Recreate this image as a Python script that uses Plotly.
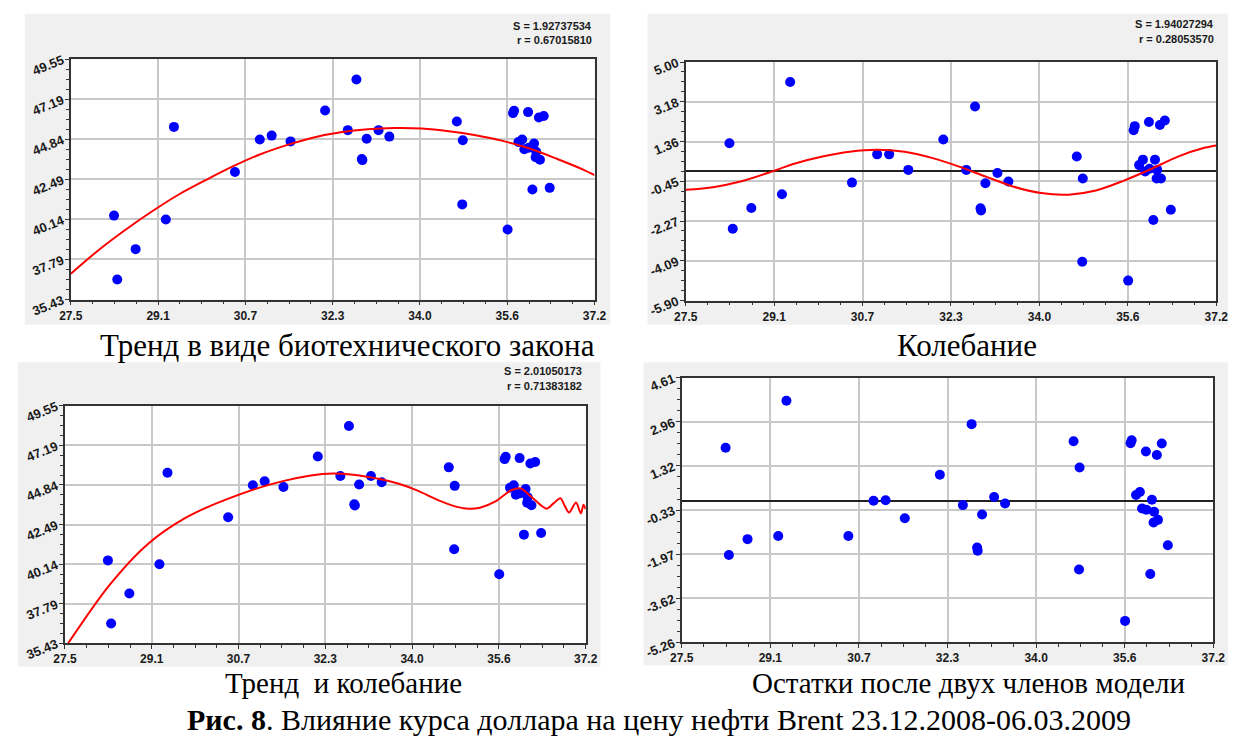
import numpy as np
import plotly.graph_objects as go

# ---------------- data ----------------
usd_rate = [28.30, 28.36, 28.70, 29.26, 29.41, 30.54, 31.00, 31.22, 31.57, 32.21,
            32.63, 32.79, 32.89, 32.90, 32.98, 33.20, 33.40, 34.65, 34.76, 34.75,
            35.59, 35.69, 35.71, 35.79, 35.86, 35.90, 35.97, 35.98, 36.05, 36.08,
            36.12, 36.11, 36.17, 36.19, 36.26, 36.37]
brent_price = [40.36, 36.61, 38.39, 40.13, 45.57, 42.92, 44.83, 45.06, 44.72, 46.53,
               45.38, 48.35, 43.69, 43.62, 44.87, 45.38, 45.00, 45.89, 44.79, 41.02,
               39.54, 46.38, 46.52, 44.68, 44.83, 44.26, 46.44, 44.35, 41.89, 44.60,
               44.11, 43.79, 46.12, 43.64, 46.21, 41.99]
resid_after_trend = [1.29, -2.62, -1.67, -1.04, 4.09, -0.51, 0.78, 0.78, 0.07, 1.46,
                     0.07, 2.97, -1.68, -1.78, -0.54, -0.07, -0.46, 0.68, -0.32, -4.13,
                     -4.99, 1.88, 2.07, 0.29, 0.54, 0.00, 2.26, 0.12, -2.22, 0.54,
                     0.07, -0.32, 2.12, -0.32, 2.33, -1.75]
resid_final = [2.00, -2.00, -1.41, -1.29, 3.75, -1.29, 0.02, 0.04, -0.63, 0.99,
               -0.14, 2.88, -1.72, -1.84, -0.49, 0.16, -0.08, 2.24, 1.26, -2.54,
               -4.46, 2.17, 2.28, 0.24, 0.35, -0.27, 1.86, -0.31, -2.71, 0.06,
               -0.39, -0.79, 1.73, -0.69, 2.16, -1.64]

trend_x = [27.5, 28.0, 28.5, 29.0, 29.5, 30.0, 30.5, 31.0, 31.5, 32.0, 32.5,
           33.0, 33.5, 34.0, 34.5, 35.0, 35.5, 36.0, 36.5, 37.0, 37.2]
trend_y = [36.95, 38.30, 39.50, 40.60, 41.60, 42.45, 43.25, 43.95, 44.50, 44.95, 45.25,
           45.43, 45.50, 45.47, 45.32, 45.08, 44.75, 44.30, 43.70, 43.05, 42.74]

osc_x = trend_x
osc_y = [-0.84, -0.72, -0.46, -0.07, 0.36, 0.68, 0.90, 0.99, 0.90, 0.62, 0.22,
         -0.25, -0.70, -0.99, -1.06, -0.87, -0.43, 0.10, 0.68, 1.09, 1.19]

combo_x = [27.56, 28.31, 29.03, 29.76, 30.52, 31.56, 32.49, 33.36, 33.72, 34.08,
           34.44, 34.80, 35.02, 35.23, 35.52, 35.81, 35.99, 36.17, 36.47, 36.60,
           36.73, 36.81, 36.89, 37.02, 37.11, 37.16, 37.20]
combo_y = [35.43, 38.81, 41.29, 42.91, 44.00, 45.07, 45.52, 45.20, 44.91, 44.49,
           43.96, 43.54, 43.43, 43.49, 43.86, 44.53, 44.63, 44.19, 43.43, 43.75,
           44.05, 43.60, 43.20, 43.80, 43.15, 43.67, 43.40]

x_ticklabels = ['27.5', '29.1', '30.7', '32.3', '34.0', '35.6', '37.2']
y1_ticklabels = ['35.43', '37.79', '40.14', '42.49', '44.84', '47.19', '49.55']
y2_ticklabels = ['-5.90', '-4.09', '-2.27', '-0.45', '1.36', '3.18', '5.00']
y4_ticklabels = ['-5.26', '-3.62', '-1.97', '-0.33', '1.32', '2.96', '4.61']

stats = [("S = 1.92737534", "r = 0.67015810"),
         ("S = 1.94027294", "r = 0.28053570"),
         ("S = 2.01050173", "r = 0.71383182")]
titles = ["Тренд в виде биотехнического закона", "Колебание",
          "Тренд  и колебание", "Остатки после двух членов модели"]
caption = "<b>Рис. 8</b>. Влияние курса доллара на цену нефти Brent 23.12.2008-06.03.2009"

# ---------------- layout geometry (pixels) ----------------
W, H = 1240, 755
def fx(p): return p / W
def fy(p): return 1 - p / H

plots = [  # x0, x1, y0(top), y1(bottom)
    (60, 594, 54, 303),
    (687, 1228, 57, 304),
    (54, 585, 413, 659),
    (683, 1225, 384, 658),
]
panels_bg = [
    (13, 610, 7, 329),
    (648, 1240, 7, 329),
    (6, 600, 368, 683),
    (644, 1240, 368, 682),
]

fig = go.Figure()

BLUE = '#0000ff'
RED = '#ff0000'

def axname(i, a):
    return a + ('' if i == 0 else str(i + 1))

series = [
    (brent_price, trend_x, trend_y),
    (resid_after_trend, osc_x, osc_y),
    (brent_price, combo_x, combo_y),
    (resid_final, None, None),
]
for i, (yv, cx, cy) in enumerate(series):
    xa = 'x' + ('' if i == 0 else str(i + 1))
    ya = 'y' + ('' if i == 0 else str(i + 1))
    fig.add_trace(go.Scatter(x=usd_rate, y=yv, mode='markers', xaxis=xa, yaxis=ya,
                             marker=dict(color=BLUE, size=10, line=dict(width=0)),
                             showlegend=False))
    if cx is not None:
        fig.add_trace(go.Scatter(x=cx, y=cy, mode='lines', xaxis=xa, yaxis=ya,
                                 line=dict(color=RED, width=2, shape='spline', smoothing=0.8),
                                 showlegend=False))

yranges = [(35.43, 49.55, y1_ticklabels), (-5.90, 5.00, y2_ticklabels),
           (35.43, 49.55, y1_ticklabels), (-5.26, 4.61, y4_ticklabels)]
xlo, xhi = 27.5, 37.2
xticks = np.linspace(xlo, xhi, 7)
xminor = np.linspace(xlo, xhi, 25)

xtickfont = dict(family='Liberation Sans, Arial', size=12, color='#1a1a1a')
ytickfont = dict(family='Liberation Sans, Arial', size=13, color='#1a1a1a')
layout = {}
for i, (x0, x1, yt, yb) in enumerate(plots):
    lo, hi, labs = yranges[i]
    yticks = np.linspace(lo, hi, 7)
    yminor = np.linspace(lo, hi, 25)
    common = dict(showline=True, linecolor='#333333', linewidth=1.5, mirror=True,
                  showgrid=True, gridcolor='#c8c8c8', gridwidth=2,
                  ticks='outside', ticklen=4, tickcolor='#333333', tickwidth=1,
                  fixedrange=True)
    layout[axname(i, 'xaxis')] = dict(
        common, domain=[fx(x0), fx(x1)], range=[xlo, xhi], anchor=axname(i, 'y'),
        tickmode='array', tickvals=list(xticks), tickfont=xtickfont,
        ticktext=['<b>%s</b>' % t for t in x_ticklabels], zeroline=False,
        minor=dict(tickmode='array', tickvals=list(xminor), ticks='outside',
                   ticklen=3, tickcolor='#333333', showgrid=False))
    layout[axname(i, 'yaxis')] = dict(
        common, domain=[fy(yb), fy(yt)], range=[lo, hi], anchor=axname(i, 'x'),
        tickmode='array', tickvals=list(yticks), tickfont=ytickfont,
        ticktext=['<b>%s</b>' % t for t in labs], tickangle=-22,
        zeroline=(i in (1, 3)), zerolinecolor='#222222', zerolinewidth=1.5,
        minor=dict(tickmode='array', tickvals=list(yminor), ticks='outside',
                   ticklen=3, tickcolor='#333333', showgrid=False))

shapes = []
for (x0, x1, y0, y1) in panels_bg:
    shapes.append(dict(type='rect', xref='paper', yref='paper', x0=fx(x0), x1=fx(x1),
                       y0=fy(y1), y1=fy(y0), fillcolor='#f0f0f0', line=dict(width=0),
                       layer='below'))
for (x0, x1, y0, y1) in plots:
    shapes.append(dict(type='rect', xref='paper', yref='paper', x0=fx(x0), x1=fx(x1),
                       y0=fy(y1), y1=fy(y0), fillcolor='white', line=dict(width=0),
                       layer='below'))

annotations = []
stat_pos = [(593, 20, 34), (1228, 18, 33), (583, 377, 392)]
for (s, r), (xr, ys, yr) in zip(stats, stat_pos):
    for txt, yy in ((s, ys), (r, yr)):
        annotations.append(dict(text='<b>%s</b>' % txt, x=fx(xr), y=fy(yy), xref='paper',
                                yref='paper', xanchor='right', yanchor='middle',
                                showarrow=False,
                                font=dict(family='Liberation Sans, Arial', size=11,
                                          color='#1a1a1a')))
title_pos = [(342, 351, 31), (974, 351, 31), (338, 700, 29), (975, 700, 29)]
for t, (xc, yc, fs) in zip(titles, title_pos):
    annotations.append(dict(text=t, x=fx(xc), y=fy(yc), xref='paper', yref='paper',
                            xanchor='center', yanchor='middle', showarrow=False,
                            font=dict(family='Liberation Serif, Times New Roman',
                                      size=fs, color='black')))
annotations.append(dict(text=caption, x=fx(660), y=fy(738), xref='paper', yref='paper',
                        xanchor='center', yanchor='middle', showarrow=False,
                        font=dict(family='Liberation Serif, Times New Roman',
                                  size=30, color='black')))

fig.update_layout(width=W, height=H, margin=dict(l=0, r=0, t=0, b=0),
                  paper_bgcolor='white', plot_bgcolor='white',
                  shapes=shapes, annotations=annotations, **layout)
fig.write_html("out.html")
